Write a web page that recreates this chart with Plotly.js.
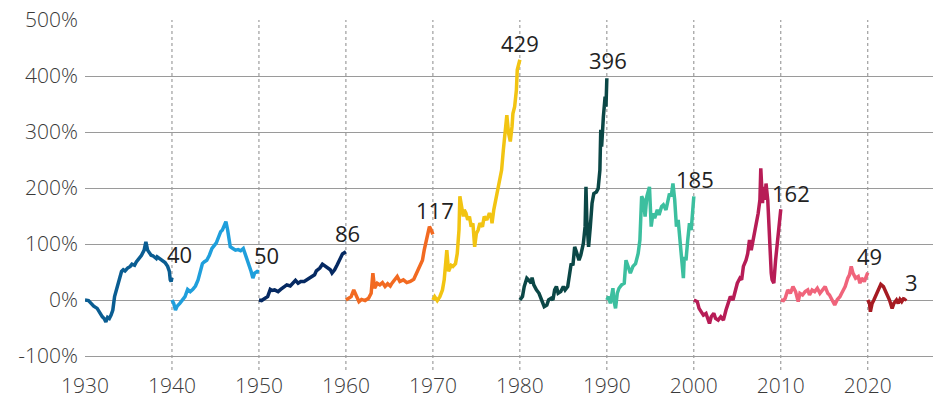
<!DOCTYPE html>
<html>
<head>
<meta charset="utf-8">
<script src="https://cdn.plot.ly/plotly-3.0.1.min.js"></script>
<style>html,body{margin:0;padding:0;background:#fff;}#chart{width:940px;height:400px;}</style>
</head>
<body>
<div id="chart"></div>
<script>
// ---- Data ----
const decades = [1930, 1940, 1950, 1960, 1970, 1980, 1990, 2000, 2010, 2020];

const yr1930 = [1930.0,1930.4,1930.7,1931.0,1931.4,1931.7,1932.0,1932.2,1932.4,1932.6,1932.8,1933.0,1933.2,1933.4,1933.7,1934.0,1934.2,1934.4,1934.6,1934.9,1935.2,1935.4,1935.7,1935.9,1936.2,1936.5,1936.8,1937.0,1937.2,1937.4,1937.6,1937.8,1938.2,1938.3,1938.6,1938.9,1939.2,1939.5,1939.7,1939.8,1939.9,1940.0];
const val1930 = [0,-1,-6,-11,-15,-23,-30,-33,-39,-31,-33,-27,-18,6,21,39,51,54,52,57,60,64,62,68,74,80,89,104,89,83,80,79,74,77,73,70,67,60,51,36,33,40];

const yr1940 = [1940.0,1940.2,1940.4,1940.6,1940.9,1941.2,1941.5,1941.8,1942.1,1942.4,1942.7,1943.0,1943.2,1943.5,1943.7,1944.0,1944.3,1944.6,1944.9,1945.1,1945.3,1945.6,1945.8,1946.0,1946.2,1946.4,1946.5,1946.7,1947.0,1947.3,1947.6,1947.9,1948.2,1948.4,1948.6,1948.9,1949.1,1949.3,1949.5,1949.8,1950.0];
const val1940 = [0,-6,-18,-11,-6,0,6,19,15,19,25,36,46,65,68,71,80,92,98,102,110,122,125,131,140,125,110,95,92,89,90,88,92,83,74,62,51,39,48,51,50];

const yr1950 = [1950.0,1950.3,1950.7,1951.0,1951.3,1951.5,1951.8,1952.2,1952.5,1952.9,1953.2,1953.6,1953.9,1954.2,1954.5,1954.8,1955.2,1955.6,1956.0,1956.4,1956.6,1957.0,1957.3,1957.6,1957.9,1958.2,1958.4,1958.7,1959.0,1959.3,1959.6,1960.0];
const val1950 = [0,-1,3,6,19,17,18,15,19,23,27,25,30,35,30,33,33,37,42,45,52,57,64,61,57,54,48,54,63,74,82,86];

const yr1960 = [1960.0,1960.3,1960.6,1960.9,1961.2,1961.5,1961.8,1962.2,1962.6,1962.9,1963.1,1963.3,1963.6,1963.9,1964.2,1964.5,1964.8,1965.1,1965.3,1965.6,1965.9,1966.2,1966.6,1967.0,1967.4,1967.8,1968.1,1968.5,1968.8,1969.0,1969.3,1969.6,1969.8,1970.0];
const val1960 = [0,3,6,18,9,-3,1,-1,3,12,48,21,30,27,31,24,29,25,30,36,42,33,36,31,33,37,48,62,71,89,110,131,125,117];

const yr1970 = [1970.0,1970.2,1970.5,1970.8,1971.1,1971.3,1971.6,1971.8,1972.1,1972.3,1972.6,1972.8,1973.0,1973.1,1973.3,1973.5,1973.6,1973.8,1974.0,1974.2,1974.4,1974.6,1974.8,1975.0,1975.2,1975.4,1975.7,1975.9,1976.2,1976.5,1976.7,1976.8,1977.0,1977.3,1977.6,1977.9,1978.1,1978.3,1978.5,1978.7,1978.9,1979.1,1979.2,1979.4,1979.6,1979.7,1980.0];
const val1970 = [0,6,-1,6,18,36,89,51,62,60,65,83,125,185,167,149,161,155,143,149,131,137,95,119,125,137,131,149,143,155,149,137,161,185,208,232,268,304,330,298,283,310,333,345,375,411,429];

const yr1980 = [1980.0,1980.3,1980.5,1980.8,1981.0,1981.3,1981.4,1981.6,1981.9,1982.2,1982.5,1982.8,1983.1,1983.3,1983.6,1983.8,1984.0,1984.2,1984.4,1984.7,1985.0,1985.2,1985.5,1985.7,1985.9,1986.1,1986.3,1986.5,1986.8,1987.0,1987.3,1987.5,1987.6,1987.7,1987.9,1988.1,1988.3,1988.5,1988.8,1989.0,1989.2,1989.3,1989.4,1989.6,1989.8,1989.9,1990.0];
const val1980 = [0,6,24,39,36,30,40,27,18,12,0,-12,-9,0,3,0,18,24,12,15,24,18,24,48,65,62,95,86,71,80,101,131,202,143,95,131,173,190,193,199,232,304,274,327,363,345,396];

const yr1990 = [1990.0,1990.2,1990.4,1990.7,1990.8,1991.0,1991.2,1991.4,1991.7,1992.0,1992.2,1992.5,1992.7,1993.0,1993.3,1993.6,1993.8,1994.0,1994.2,1994.4,1994.6,1994.9,1995.1,1995.3,1995.5,1995.8,1996.0,1996.3,1996.5,1996.8,1997.0,1997.2,1997.4,1997.6,1997.8,1998.0,1998.2,1998.4,1998.6,1998.8,1998.9,1999.1,1999.3,1999.5,1999.7,1999.9,2000.0];
const val1990 = [0,6,-6,21,0,-15,12,21,27,30,71,54,48,60,65,83,107,185,179,149,185,202,131,155,146,161,152,167,170,161,173,190,185,208,179,131,143,113,83,39,77,71,107,137,125,161,185];

const yr2000 = [2000.0,2000.4,2000.6,2000.9,2001.1,2001.4,2001.6,2001.8,2002.0,2002.3,2002.5,2002.8,2003.1,2003.4,2003.7,2004.0,2004.2,2004.5,2004.7,2005.0,2005.3,2005.5,2005.7,2006.0,2006.2,2006.4,2006.6,2006.8,2007.0,2007.2,2007.4,2007.6,2007.7,2007.9,2008.0,2008.2,2008.3,2008.5,2008.7,2008.9,2009.0,2009.2,2009.4,2009.6,2009.8,2010.0];
const val2000 = [0,-3,-15,-21,-27,-24,-33,-42,-30,-24,-33,-36,-30,-36,-18,-6,6,0,15,30,39,36,60,71,83,107,89,104,125,137,155,179,235,173,202,179,208,179,101,48,36,30,71,101,131,162];

const yr2010 = [2010.0,2010.3,2010.5,2010.8,2011.1,2011.4,2011.7,2012.0,2012.2,2012.5,2012.8,2013.1,2013.3,2013.6,2013.9,2014.2,2014.5,2014.8,2015.1,2015.4,2015.6,2015.9,2016.2,2016.5,2016.8,2017.0,2017.4,2017.7,2017.9,2018.1,2018.3,2018.6,2018.9,2019.1,2019.3,2019.6,2019.8,2020.0];
const val2010 = [0,-1,3,18,12,24,15,-3,12,9,15,18,9,18,15,21,12,18,24,12,9,0,-9,1,6,12,24,39,45,60,48,39,42,30,39,33,42,49];

const yr2020 = [2020.0,2020.2,2020.3,2020.5,2020.7,2021.0,2021.3,2021.5,2021.8,2022.0,2022.3,2022.5,2022.8,2023.0,2023.3,2023.5,2023.7,2023.9,2024.1,2024.3,2024.4];
const val2020 = [0,-6,-21,-6,0,12,24,28,24,18,6,0,-15,-6,0,-6,1,-3,2,1,3];

const yTickVals = [-100, 0, 100, 200, 300, 400, 500];
const yTickText = ['-100%', '0%', '100%', '200%', '300%', '400%', '500%'];
const xTickVals = [1930, 1940, 1950, 1960, 1970, 1980, 1990, 2000, 2010, 2020];
const xTickText = ['1930', '1940', '1950', '1960', '1970', '1980', '1990', '2000', '2010', '2020'];

// ---- Styles ----
const colors = ['#0a5d92', '#1f9fdc', '#052962', '#f26a21', '#f2c412', '#0b4746', '#3cbf9f', '#b71c56', '#f0647b', '#a61b22'];
const labelXShift = [8, 8, 2, 2, 0, 1, 1, 10, 2, 5];
const labelYShift = [24, 17, 19, 24, 17, 18, 17, 16, 17, 16];
const FONT = '"Open Sans", Lato, sans-serif';

const xs = [yr1930, yr1940, yr1950, yr1960, yr1970, yr1980, yr1990, yr2000, yr2010, yr2020];
const ys = [val1930, val1940, val1950, val1960, val1970, val1980, val1990, val2000, val2010, val2020];

const traces = decades.map((d, i) => ({
  x: xs[i], y: ys[i], type: 'scatter', mode: 'lines',
  line: {color: colors[i], width: 3.5, shape: 'linear'},
  hoverinfo: 'skip', showlegend: false
}));

const annotations = decades.map((d, i) => {
  const n = xs[i].length;
  return {
    x: xs[i][n - 1], y: ys[i][n - 1], xref: 'x', yref: 'y',
    text: String(ys[i][n - 1]), showarrow: false,
    xanchor: 'center', yanchor: 'middle',
    xshift: labelXShift[i], yshift: labelYShift[i],
    font: {family: FONT, size: 22, color: '#222'}
  };
});

const shapes = decades.slice(1).map(d => ({
  type: 'line', xref: 'x', yref: 'paper', x0: d, x1: d, y0: 0, y1: 1,
  line: {color: '#8a8a8a', width: 1, dash: '3px,3px'}, layer: 'below'
}));

const layout = {
  width: 940, height: 400,
  margin: {l: 85, r: 7, t: 20, b: 30},
  paper_bgcolor: '#fff', plot_bgcolor: '#fff',
  font: {family: FONT, size: 21, color: '#333'},
  xaxis: {
    range: [1930, 2027.5], tickvals: xTickVals, ticktext: xTickText,
    showgrid: false, zeroline: false, showline: false, ticks: '',
    ticklabelstandoff: 1,
    tickfont: {family: FONT, size: 21, color: '#3a3a3a', weight: 300}
  },
  yaxis: {
    range: [-125, 500], tickvals: yTickVals, ticktext: yTickText,
    showgrid: true, gridcolor: '#9a9a9a', gridwidth: 1,
    zeroline: false, showline: false, ticks: '',
    ticklabelstandoff: 6,
    tickfont: {family: FONT, size: 21, color: '#3a3a3a', weight: 300}
  },
  shapes: shapes,
  annotations: annotations
};

Plotly.newPlot('chart', traces, layout, {staticPlot: true, displayModeBar: false});
</script>
</body>
</html>
